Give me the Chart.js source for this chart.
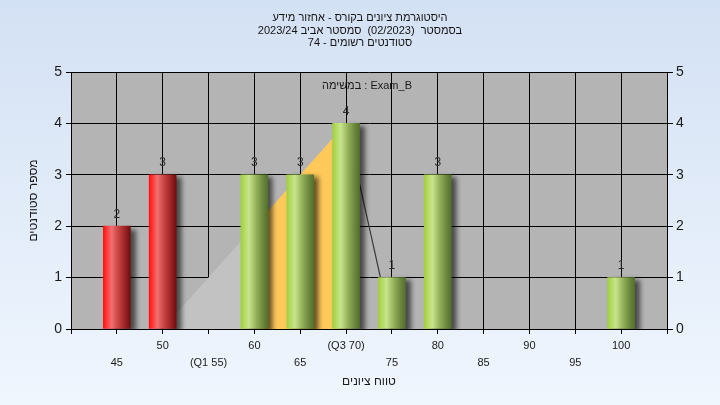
<!DOCTYPE html>
<html lang="he">
<head>
<meta charset="utf-8">
<script src="https://cdn.jsdelivr.net/npm/chart.js@4.4.1/dist/chart.umd.min.js"></script>
<style>
  html, body { margin: 0; padding: 0; }
  body { width: 720px; height: 405px; overflow: hidden; background: linear-gradient(#d3e1f4, #f0f6fe); }
  #wrap { position: relative; width: 720px; height: 405px; }
</style>
</head>
<body>
<div id="wrap"><canvas id="histChart"></canvas></div>
<script>
// --- DATA ---
const gradeBins = [45, 50, 55, 60, 65, 70, 75, 80, 85, 90, 95, 100];
const studentCounts = [2, 3, 0, 3, 3, 4, 1, 3, 0, 0, 0, 1];
const failBins = [45, 50];
const trendX = [50, 55, 60, 65, 70, 75];
const trendY = [0, 1, 2, 3, 4, 0];
const shadeBreaks = [50, 60, 70];          // grey part, yellow part, end of fill
const quartileLabels = { 55: '(Q1 55)', 70: '(Q3 70)' };
const topRowTicks = [50, 60, 70, 80, 90, 100];
const titleLines = [
    'היסטוגרמת ציונים בקורס - אחזור מידע',
    'בסמסטר  (02/2023)  סמסטר אביב 2023/24',
    'סטודנטים רשומים - 74'
];
const taskLabel = 'במשימה : Exam_B';
const yTitle = 'מספר סטודנטים';
const xTitle = 'טווח ציונים';

// --- STYLE ---
const FONT = '"Liberation Sans", "DejaVu Sans", sans-serif';
const BAR_W = 27;
const RED_STOPS = [[0, '#ff1010'], [0.1, '#ff3030'], [0.3, '#f07070'], [0.55, '#c84444'], [0.8, '#9c2424'], [1, '#700e0e']];
const GREEN_STOPS = [[0, '#a2ce3e'], [0.1, '#b0d858'], [0.3, '#c8e48e'], [0.55, '#98b45c'], [0.8, '#6e8a40'], [1, '#54702a']];

const rtl = s => '\u202B' + s + '\u202C';

function barFill(ctx) {
    const chart = ctx.chart;
    if (!chart.chartArea || ctx.type !== 'data') return '#999';
    const grade = gradeBins[ctx.dataIndex];
    const cx = chart.scales.x.getPixelForValue(grade);
    const g = chart.ctx.createLinearGradient(cx - BAR_W / 2, 0, cx + BAR_W / 2, 0);
    const stops = failBins.includes(grade) ? RED_STOPS : GREEN_STOPS;
    stops.forEach(([o, c]) => g.addColorStop(o, c));
    return g;
}

function trendFill(ctx) {
    const chart = ctx.chart;
    const area = chart.chartArea;
    if (!area) return 'rgba(0,0,0,0)';
    const x = chart.scales.x;
    const t = v => (x.getPixelForValue(v) - area.left) / (area.right - area.left);
    const g = chart.ctx.createLinearGradient(area.left, 0, area.right, 0);
    g.addColorStop(0, '#c2c2c2');
    g.addColorStop(t(shadeBreaks[1]), '#c2c2c2');
    g.addColorStop(t(shadeBreaks[1]), '#ffc95a');
    g.addColorStop(t(shadeBreaks[2]), '#ffc95a');
    g.addColorStop(t(shadeBreaks[2]), 'rgba(0,0,0,0)');
    g.addColorStop(1, 'rgba(0,0,0,0)');
    return g;
}

// --- PLUGINS ---
const plotBackground = {
    id: 'plotBackground',
    beforeDraw(chart) {
        const { ctx, chartArea: a } = chart;
        ctx.save();
        ctx.fillStyle = '#b4b4b4';
        ctx.fillRect(a.left, a.top, a.right - a.left, a.bottom - a.top);
        ctx.restore();
    }
};

const barShadow = {
    id: 'barShadow',
    beforeDatasetDraw(chart, args) {
        if (args.meta.type !== 'bar') return;
        const ctx = chart.ctx;
        ctx.save();
        ctx.shadowColor = 'rgba(0,0,0,0.6)';
        ctx.shadowBlur = 5;
        ctx.shadowOffsetX = 5;
        ctx.shadowOffsetY = 3;
    },
    afterDatasetDraw(chart, args) {
        if (args.meta.type !== 'bar') return;
        chart.ctx.restore();
    }
};

const barLabels = {
    id: 'barLabels',
    afterDatasetsDraw(chart) {
        const ctx = chart.ctx;
        const meta = chart.getDatasetMeta(1);
        ctx.save();
        ctx.font = '12px ' + FONT;
        ctx.fillStyle = '#2b2b2b';
        ctx.textAlign = 'center';
        ctx.textBaseline = 'middle';
        meta.data.forEach((bar, i) => {
            if (!studentCounts[i]) return;
            ctx.fillText(String(studentCounts[i]), bar.x, bar.y - 12);
        });
        // task label at the top of the plot
        const a = chart.chartArea;
        ctx.font = '11px ' + FONT;
        ctx.fillStyle = '#1a1a1a';
        ctx.direction = 'ltr';
        ctx.fillText(taskLabel, (a.left + a.right) / 2 - 2, a.top + 14);
        ctx.restore();
    }
};

// --- CHART ---
new Chart(document.getElementById('histChart'), {
    type: 'bar',
    data: {
        datasets: [
            {
                type: 'line',
                data: trendX.map((x, i) => ({ x, y: trendY[i] })),
                backgroundColor: trendFill,
                fill: 'origin',
                borderWidth: 1.2,
                segment: {
                    borderColor: c => c.p0.parsed.x >= shadeBreaks[2] ? '#3a3a3a' : 'rgba(0,0,0,0)'
                },
                pointRadius: 0,
                tension: 0,
                order: 2
            },
            {
                type: 'bar',
                // empty bins get no bar at all
                data: gradeBins.map((x, i) => ({ x, y: studentCounts[i] || null })),
                backgroundColor: barFill,
                borderWidth: 0,
                barThickness: BAR_W,
                order: 1
            }
        ]
    },
    options: {
        responsive: true,
        maintainAspectRatio: false,
        animation: false,
        layout: { padding: 0 },
        plugins: {
            legend: { display: false },
            tooltip: { enabled: false },
            title: {
                display: true,
                text: titleLines.map(rtl),
                color: '#141414',
                font: { family: FONT, size: 11, weight: 'normal', lineHeight: '12.5px' },
                padding: { top: 12, bottom: 22.5 }
            }
        },
        scales: {
            x: {
                type: 'linear',
                position: 'bottom',
                min: 40,
                max: 105,
                offset: false,
                grid: { color: '#000', offset: false, tickLength: 5 },
                border: { color: '#000' },
                ticks: {
                    stepSize: 5,
                    autoSkip: false,
                    maxRotation: 0,
                    minRotation: 0,
                    padding: 3,
                    color: '#1a1a1a',
                    font: { family: FONT, size: 11, lineHeight: '17px' },
                    callback: v => {
                        if (!gradeBins.includes(v)) return '';
                        const txt = quartileLabels[v] || String(v);
                        return topRowTicks.includes(v) ? txt : ['', txt];
                    }
                },
                title: {
                    display: true,
                    text: xTitle,
                    color: '#1a1a1a',
                    font: { family: FONT, size: 12 },
                    padding: { top: 0, bottom: 16.5 }
                },
                afterFit: s => { s.height = 76; }
            },
            y: {
                position: 'left',
                min: 0,
                max: 5,
                grid: { color: '#000', tickLength: 5 },
                border: { color: '#000' },
                ticks: { stepSize: 1, padding: 4, color: '#1a1a1a', font: { family: FONT, size: 14 } },
                title: {
                    display: true,
                    text: yTitle,
                    color: '#1a1a1a',
                    font: { family: FONT, size: 12 },
                    padding: { top: 26, bottom: 0 }
                },
                afterFit: s => { s.width = 71; }
            },
            y2: {
                position: 'right',
                min: 0,
                max: 5,
                grid: { drawOnChartArea: false, color: '#000', tickLength: 6 },
                border: { color: '#000' },
                ticks: { stepSize: 1, padding: 3, color: '#1a1a1a', font: { family: FONT, size: 14 } },
                afterFit: s => { s.width = 53; }
            }
        }
    },
    plugins: [plotBackground, barShadow, barLabels]
});
</script>
</body>
</html>
